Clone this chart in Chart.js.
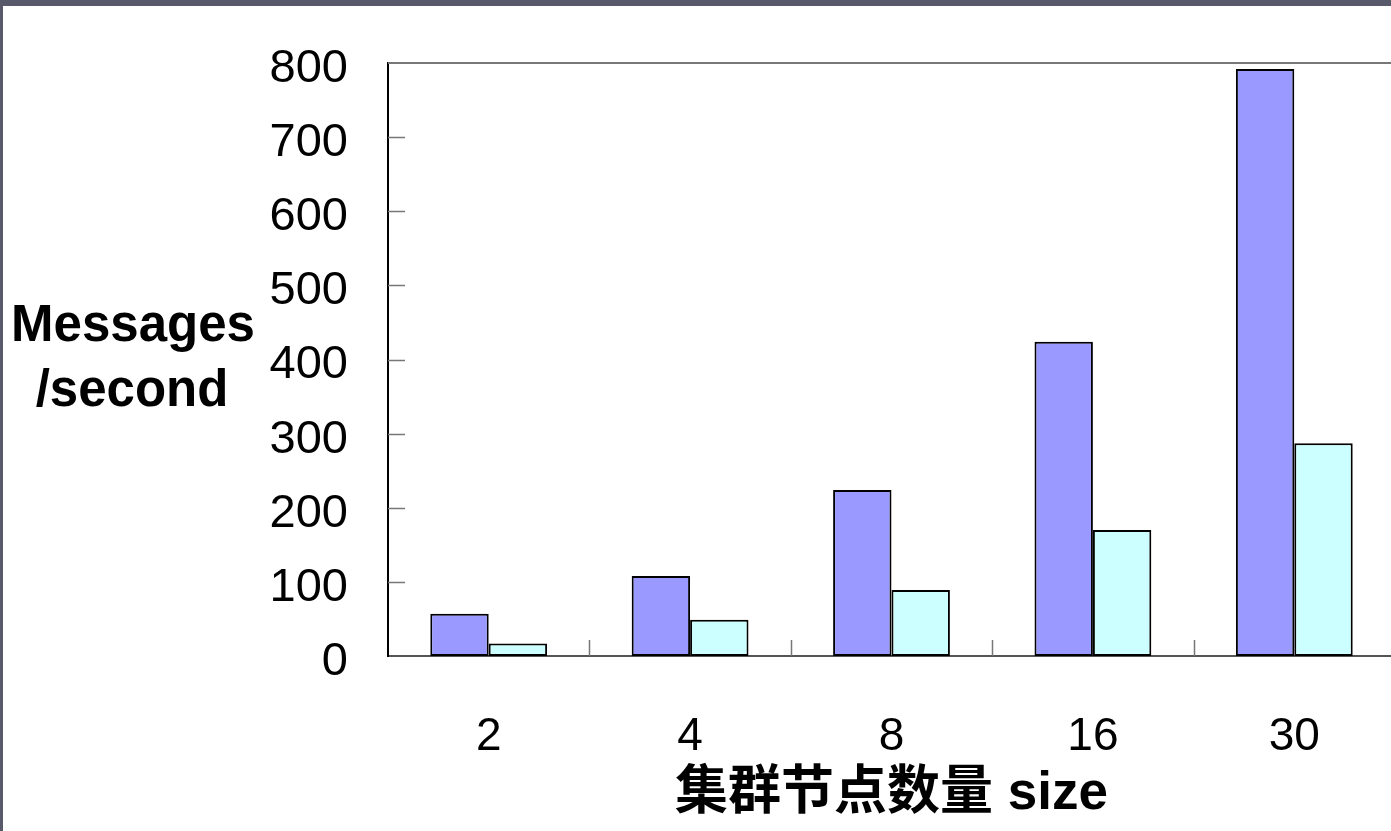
<!DOCTYPE html>
<html>
<head>
<meta charset="utf-8">
<script src="https://cdn.jsdelivr.net/npm/chart.js@4/dist/chart.umd.min.js"></script>
<style>
  html, body { margin: 0; padding: 0; overflow: hidden; background: #585a6c; }
  #frame { position: absolute; left: 3px; top: 6px; width: 1400px; height: 825px; background: #fff; }
  #frame canvas { display: block; }
</style>
</head>
<body>
<div id="frame"><canvas id="chart" width="1400" height="825"></canvas></div>
<script>
const sizes = ["2", "4", "8", "16", "30"];
const seriesA = [57, 108, 224, 424, 792];
const seriesB = [17, 49, 89, 170, 287];
const yTicks = [0, 100, 200, 300, 400, 500, 600, 700, 800];

const yTitleLines = ["Messages", "/second"];
const xTitle = "集群节点数量 size";

const fontFamily = '"Liberation Sans", Arial, "Noto Sans CJK SC", sans-serif';

// frame line on top, inward tick marks and the left axis title
const decorations = {
  id: "decorations",
  afterDraw(chart) {
    const ctx = chart.ctx;
    const area = chart.chartArea;
    const y = chart.scales.y;
    ctx.save();
    ctx.strokeStyle = "#777";
    ctx.lineWidth = 2;
    ctx.beginPath();
    ctx.moveTo(area.left, y.getPixelForValue(800));
    ctx.lineTo(area.right + 20, y.getPixelForValue(800));
    ctx.stroke();

    ctx.lineWidth = 1.5;
    ctx.beginPath();
    yTicks.slice(1, -1).forEach((v) => {
      const py = Math.round(y.getPixelForValue(v)) + 0.5;
      ctx.moveTo(area.left, py);
      ctx.lineTo(area.left + 17, py);
    });
    const step = (area.right - area.left) / sizes.length;
    for (let i = 1; i < sizes.length; i++) {
      const px = Math.round(area.left + step * i) + 0.5;
      ctx.moveTo(px, area.bottom);
      ctx.lineTo(px, area.bottom - 16);
    }
    ctx.stroke();

    ctx.fillStyle = "#000";
    ctx.font = "bold 51px " + fontFamily;
    ctx.textAlign = "center";
    ctx.textBaseline = "middle";
    ctx.fillText(yTitleLines[0], 130, 321);
    ctx.fillText(yTitleLines[1], 129, 386);
    ctx.restore();
  },
};

new Chart(document.getElementById("chart"), {
  type: "bar",
  data: {
    labels: sizes,
    datasets: [
      {
        data: seriesA,
        backgroundColor: "#9999ff",
        borderColor: "#000",
        borderWidth: 2,
        borderSkipped: false,
        categoryPercentage: 0.58,
        barPercentage: 1,
      },
      {
        data: seriesB,
        backgroundColor: "#ccffff",
        borderColor: "#000",
        borderWidth: 2,
        borderSkipped: false,
        categoryPercentage: 0.58,
        barPercentage: 1,
      },
    ],
  },
  options: {
    responsive: false,
    animation: false,
    layout: { padding: { top: 57, right: 8, bottom: 1, left: 0 } },
    plugins: { legend: { display: false }, tooltip: { enabled: false } },
    scales: {
      x: {
        grid: { display: false, drawTicks: false },
        border: { color: "#555", width: 2 },
        ticks: { color: "#000", padding: 54, font: { size: 46, family: fontFamily } },
        title: {
          display: true,
          text: xTitle,
          color: "#000",
          font: { size: 53, weight: "bold", family: fontFamily },
        },
        afterFit(scale) { scale.height = 174; },
      },
      y: {
        min: 0,
        max: 800,
        afterBuildTicks(scale) { scale.ticks = yTicks.map((v) => ({ value: v })); },
        grid: { display: false, drawTicks: false },
        border: { color: "#000", width: 2 },
        ticks: { color: "#000", padding: 40, labelOffset: 6, font: { size: 47, family: fontFamily } },
        afterFit(scale) {
          scale.width = 385;
          scale.paddingTop = 0;
          scale.paddingBottom = 0;
        },
      },
    },
  },
  plugins: [decorations],
});
</script>
</body>
</html>
